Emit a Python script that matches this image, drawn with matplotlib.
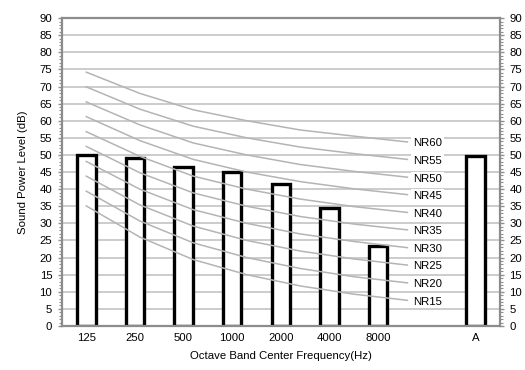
import numpy as np
import matplotlib.pyplot as plt
from matplotlib.ticker import MultipleLocator

plt.rcParams["font.family"] = ["Liberation Sans", "DejaVu Sans"]

bands = ["125", "250", "500", "1000", "2000", "4000", "8000", "", "A"]
levels = [50.0, 49.0, 46.6, 45.1, 41.6, 34.4, 23.4, None, 49.7]

nr_names = ["NR60", "NR55", "NR50", "NR45", "NR40", "NR35", "NR30", "NR25", "NR20", "NR15"]
nr60 = [74.2, 68.0, 63.2, 60.0, 57.3, 55.5, 53.8]
nr55 = [69.9, 63.4, 58.4, 55.0, 52.3, 50.4, 48.7]
nr50 = [65.5, 58.8, 53.5, 50.0, 47.2, 45.2, 43.5]
nr45 = [61.2, 54.2, 48.7, 45.0, 42.2, 40.1, 38.4]
nr40 = [56.8, 49.6, 43.8, 40.0, 37.1, 34.9, 33.2]
nr35 = [52.5, 44.8, 38.9, 35.0, 32.0, 29.8, 28.1]
nr30 = [48.1, 40.0, 34.0, 30.0, 26.9, 24.7, 22.9]
nr25 = [43.8, 35.4, 29.2, 25.0, 21.9, 19.6, 17.8]
nr20 = [39.4, 30.7, 24.3, 20.0, 16.8, 14.4, 12.6]
nr15 = [35.1, 26.0, 19.4, 15.0, 11.7, 9.3, 7.5]
nr_curves = [nr60, nr55, nr50, nr45, nr40, nr35, nr30, nr25, nr20, nr15]

FS = 8.2

fig = plt.figure(figsize=(5.25, 3.7), dpi=100)
ax = fig.add_axes([0.118, 0.119, 0.834, 0.832])

x = np.arange(len(bands))
bar_x = [i for i, v in zip(x, levels) if v is not None]
bar_h = [v for v in levels if v is not None]
ax.bar(bar_x, bar_h, width=0.38, color="white", edgecolor="black",
       linewidth=2.4, zorder=2)

# NR curves are spread a bit wider than the bar categories
curve_x = np.arange(7) * 1.1
for name, vals in zip(nr_names, nr_curves):
    ax.plot(curve_x, vals, color="#b4b4b4", linewidth=1.1, zorder=3)
    ax.text(curve_x[-1] + 0.12, vals[-1] - 0.4, name, fontsize=FS,
            ha="left", va="center", zorder=4,
            bbox=dict(facecolor="white", edgecolor="none", pad=1.2))

ax.set_xlim(-0.5, len(bands) - 0.5)
ax.set_ylim(0, 90)
ax.set_xticks(x)
ax.set_xticklabels(bands, fontsize=FS)
ax.set_yticks(np.arange(0, 91, 5))
ax.yaxis.set_minor_locator(MultipleLocator(1))
ax.tick_params(axis="x", length=0, pad=5)
ax.tick_params(axis="y", which="major", labelsize=FS, length=3,
               color="#909090", width=1, left=True, right=True,
               labelleft=True, labelright=True, pad=4)
ax.tick_params(axis="y", which="minor", length=2.5, color="#909090",
               width=0.8, left=True, right=True)

ax.grid(axis="y", color="#c8c8c8", linewidth=1.3, zorder=0)
ax.set_axisbelow(True)
for side in ["left", "right", "top", "bottom"]:
    ax.spines[side].set_color("#8c8c8c")
    ax.spines[side].set_linewidth(1.6)

ax.set_ylabel("Sound Power Level (dB)", fontsize=FS, labelpad=8)
ax.set_xlabel("Octave Band Center Frequency(Hz)", fontsize=FS, labelpad=6)

fig.savefig("out.png", dpi=100)
